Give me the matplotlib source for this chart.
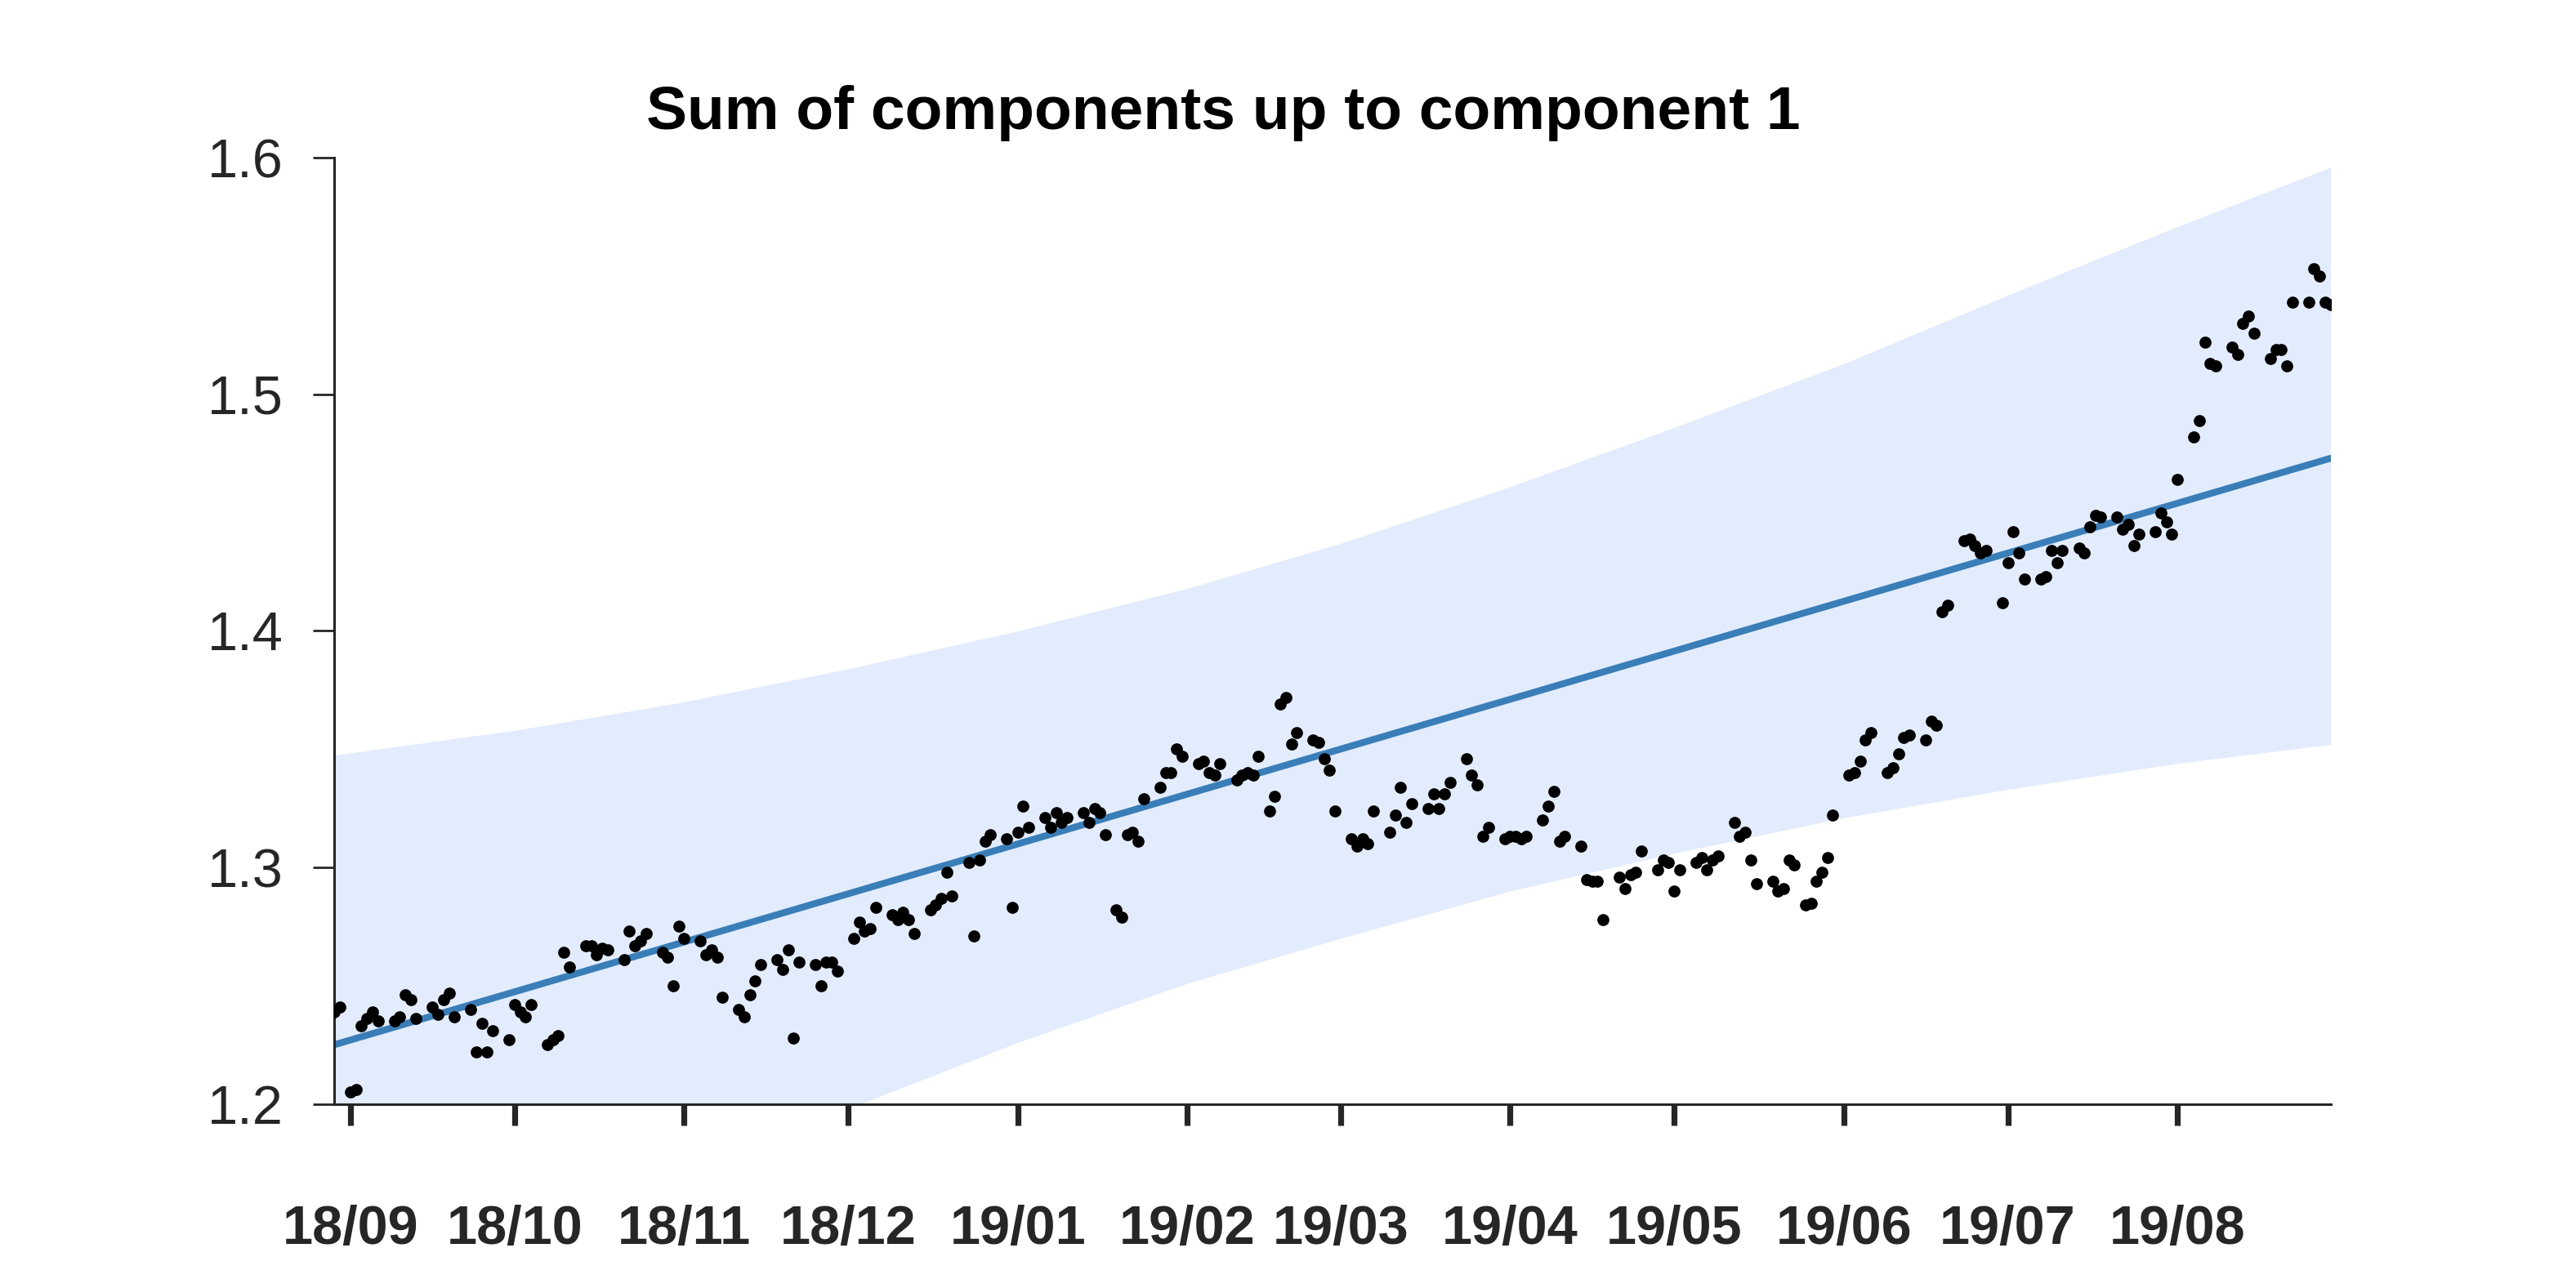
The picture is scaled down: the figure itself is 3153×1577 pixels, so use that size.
import numpy as np
import pandas as pd
import matplotlib
matplotlib.use('Agg')
import matplotlib.pyplot as plt
import matplotlib.dates as mdates

plt.rcParams['font.family'] = ['Liberation Sans', 'DejaVu Sans']

# observation dates: Sun-Thu trading days plus a few Saturdays
extra_days = ['2018-09-01', '2019-01-19', '2019-02-16', '2019-05-25']
obs_dates = pd.bdate_range('2018-08-29', '2019-08-29', freq='C',
                           weekmask='Sun Mon Tue Wed Thu')
obs_dates = obs_dates.union(pd.to_datetime(extra_days))

# observed values, one row per week
obs_values = [
    1.239, 1.241,
    1.205, 1.206, 1.233, 1.236, 1.239, 1.235,
    1.235, 1.237, 1.246, 1.244, 1.236,
    1.241, 1.238, 1.244, 1.247, 1.237,
    1.240, 1.222, 1.234, 1.222, 1.231,
    1.227, 1.242, 1.239, 1.237, 1.242,
    1.225, 1.227, 1.229, 1.264, 1.258,
    1.267, 1.267, 1.263, 1.266, 1.265,
    1.261, 1.273, 1.267, 1.269, 1.272,
    1.264, 1.262, 1.250, 1.275, 1.270,
    1.269, 1.263, 1.265, 1.262, 1.245,
    1.240, 1.237, 1.246, 1.252, 1.259,
    1.261, 1.257, 1.265, 1.228, 1.260,
    1.259, 1.250, 1.260, 1.260, 1.256,
    1.270, 1.277, 1.273, 1.274, 1.283,
    1.280, 1.278, 1.281, 1.278, 1.272,
    1.282, 1.284, 1.287, 1.298, 1.288,
    1.302, 1.271, 1.303, 1.311, 1.314,
    1.312, 1.283, 1.315, 1.326, 1.317,
    1.321, 1.317, 1.323, 1.319, 1.321,
    1.323, 1.319, 1.325, 1.323, 1.314,
    1.282, 1.279, 1.314, 1.315, 1.311, 1.329,
    1.334, 1.340, 1.340, 1.350, 1.347,
    1.344, 1.345, 1.340, 1.339, 1.344,
    1.337, 1.339, 1.340, 1.339, 1.347,
    1.324, 1.330, 1.369, 1.372, 1.352, 1.357,
    1.354, 1.353, 1.346, 1.341, 1.324,
    1.312, 1.309, 1.312, 1.310, 1.324,
    1.315, 1.322, 1.334, 1.319, 1.327,
    1.325, 1.331, 1.325, 1.331, 1.336,
    1.346, 1.339, 1.335, 1.313, 1.317,
    1.312, 1.313, 1.313, 1.312, 1.313,
    1.320, 1.326, 1.332, 1.311, 1.313,
    1.309, 1.295, 1.294, 1.294, 1.278,
    1.296, 1.291, 1.297, 1.298, 1.307,
    1.299, 1.303, 1.302, 1.290, 1.299,
    1.302, 1.304, 1.299, 1.303, 1.305,
    1.319, 1.313, 1.315, 1.303, 1.293,
    1.294, 1.290, 1.291, 1.303, 1.301,
    1.284, 1.285, 1.294, 1.298, 1.304, 1.322,
    1.339, 1.340, 1.345, 1.354, 1.357,
    1.340, 1.342, 1.348, 1.355, 1.356,
    1.354, 1.362, 1.360, 1.408, 1.411,
    1.438, 1.439, 1.436, 1.433, 1.434,
    1.412, 1.429, 1.442, 1.433, 1.422,
    1.422, 1.423, 1.434, 1.429, 1.434,
    1.435, 1.433, 1.444, 1.449, 1.448,
    1.448, 1.443, 1.445, 1.436, 1.441,
    1.442, 1.450, 1.446, 1.441, 1.464,
    1.482, 1.489, 1.522, 1.513, 1.512,
    1.520, 1.517, 1.530, 1.533, 1.526,
    1.515, 1.519, 1.519, 1.512, 1.539,
    1.539, 1.553, 1.550, 1.539, 1.538,
]
assert len(obs_values) == len(obs_dates), (len(obs_values), len(obs_dates))

# component 1 (trend) and its uncertainty band
trend_dates = pd.to_datetime(['2018-08-29', '2019-08-29'])
trend_values = [1.225, 1.473]

band_dates = pd.to_datetime(['2018-08-29', '2018-10-01', '2018-11-01', '2018-12-01',
                             '2019-01-01', '2019-02-01', '2019-03-01', '2019-04-01',
                             '2019-05-01', '2019-06-01', '2019-07-01', '2019-08-01',
                             '2019-08-29'])
band_upper = [1.3475, 1.358, 1.370, 1.384, 1.400, 1.418, 1.437, 1.461,
              1.486, 1.513, 1.542, 1.571, 1.596]
band_lower = [1.1025, 1.137, 1.169, 1.198, 1.226, 1.251, 1.270, 1.290,
              1.306, 1.321, 1.333, 1.344, 1.352]

fig = plt.figure(figsize=(15.765, 7.885), dpi=200)
ax = fig.add_axes([0.1297, 0.1429, 0.9047 - 0.1297, 0.8774 - 0.1429])

ax.fill_between(band_dates, band_lower, band_upper, color='#e3ecfd', lw=0, zorder=1)
ax.plot(trend_dates, trend_values, color='#3a7eb8', lw=3.0, zorder=2,
        solid_capstyle='round')
ax.plot(obs_dates, obs_values, 'o', color='black', ms=5.3, mew=0, zorder=3)

ax.set_xlim(obs_dates[0], obs_dates[-1])
ax.set_ylim(1.2, 1.6)

ax.xaxis.set_major_locator(mdates.MonthLocator())
ax.xaxis.set_major_formatter(mdates.DateFormatter('%y/%m'))
ax.set_yticks([1.2, 1.3, 1.4, 1.5, 1.6])
ax.set_yticklabels(['1.2', '1.3', '1.4', '1.5', '1.6'])

for s in ['top', 'right']:
    ax.spines[s].set_visible(False)
for s in ['left', 'bottom']:
    ax.spines[s].set_color('#262626')
    ax.spines[s].set_linewidth(1.1)

ax.tick_params(axis='x', direction='out', length=9.5, width=2.6, color='#262626',
               pad=35, labelsize=24, labelcolor='#262626')
ax.tick_params(axis='y', direction='out', length=9.5, width=1.0, color='#262626',
               pad=13, labelsize=24, labelcolor='#262626')
for lab in ax.get_xticklabels():
    lab.set_fontweight('bold')

fig.text(0.475, 0.9, 'Sum of components up to component 1', ha='center',
         va='baseline', fontsize=27, fontweight='bold', color='black')

fig.savefig('out.png', dpi=200)
